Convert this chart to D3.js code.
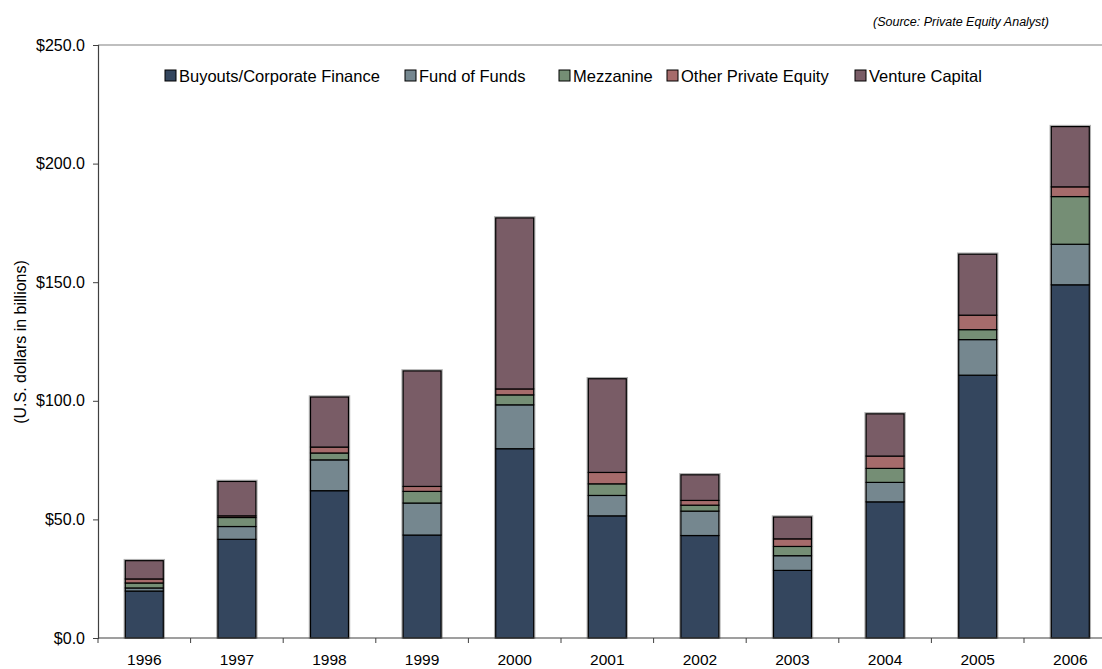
<!DOCTYPE html>
<html>
<head>
<meta charset="utf-8">
<script src="https://cdn.jsdelivr.net/npm/d3@7"></script>
<style>
  html, body { margin: 0; padding: 0; background: #fff; }
  svg { display: block; font-family: "Liberation Sans", Arial, sans-serif; }
</style>
</head>
<body>
<svg id="chart" width="1102" height="669"></svg>
<script>
const years = ["1996","1997","1998","1999","2000","2001","2002","2003","2004","2005","2006"];
const seriesNames = ["Buyouts/Corporate Finance","Fund of Funds","Mezzanine","Other Private Equity","Venture Capital"];
const buyouts     = [19.8, 41.6, 62.1, 43.4, 79.8, 51.5, 43.2, 28.5, 57.4, 110.8, 148.9];
const fundOfFunds = [1.3,  5.4,  13.0, 13.5, 18.5, 8.6,  10.3, 6.2,  8.2,  15.0,  17.1];
const mezzanine   = [2.1,  3.8,  2.9,  4.9,  4.2,  4.9,  2.5,  3.9,  5.9,  4.2,   20.1];
const otherPE     = [1.7,  0.7,  2.5,  2.1,  2.5,  4.8,  2.0,  3.2,  5.2,  6.1,   4.1];
const ventureCap  = [7.7,  14.5, 21.1, 48.7, 72.1, 39.5, 10.8, 9.2,  17.8, 25.7,  25.4];
const colors = ["#34465e","#75878f","#758e75","#a66b6b","#795c66"];
const yTicks = [0, 50, 100, 150, 200, 250];
const sourceText = "(Source: Private Equity Analyst)";
const yLabel = "(U.S. dollars in billions)";

(function () {
const seriesData = [buyouts, fundOfFunds, mezzanine, otherPE, ventureCap];
const rows = years.map((yr, i) => {
  const r = { year: yr };
  seriesNames.forEach((s, k) => r[s] = seriesData[k][i]);
  return r;
});
const stack = d3.stack().keys(seriesNames)(rows);

const svg = d3.select("#chart");
const pl = 98, pt = 45, pb = 638, pr = 98 + 11 * 92.6;

const x = d3.scaleBand().domain(years).range([pl, pr]).padding(0);
const y = d3.scaleLinear().domain([0, 250]).range([pb, pt]);
const barW = x.bandwidth() * 0.41;

// plot area top border
svg.append("line").attr("x1", pl).attr("x2", 1102).attr("y1", pt).attr("y2", pt)
  .attr("stroke", "#808080").attr("stroke-width", 1.2);

// bar halos
const last = stack[stack.length - 1];
svg.append("g").selectAll("rect").data(rows).join("rect")
  .attr("x", d => x(d.year) + (x.bandwidth() - barW) / 2 - 1)
  .attr("y", (d, i) => y(last[i][1]) - 1)
  .attr("width", barW + 2)
  .attr("height", (d, i) => y(0) - y(last[i][1]) + 1)
  .attr("fill", "none").attr("stroke", "#b0b0b0").attr("stroke-width", 1.5);

// bars
svg.append("g").selectAll("g").data(stack).join("g")
  .attr("fill", (d, i) => colors[i])
  .selectAll("rect").data(d => d).join("rect")
  .attr("x", d => x(d.data.year) + (x.bandwidth() - barW) / 2)
  .attr("y", d => y(d[1]))
  .attr("width", barW)
  .attr("height", d => y(d[0]) - y(d[1]))
  .attr("stroke", "#000").attr("stroke-width", 1.2);

// y axis
const yAxis = d3.axisLeft(y).tickValues(yTicks).tickFormat(d3.format("$.1f")).tickSize(5).tickPadding(8);
const gy = svg.append("g").attr("transform", `translate(${pl},0)`).call(yAxis);
gy.select(".domain").attr("stroke", "#404040").attr("stroke-width", 1.2);
gy.selectAll(".tick line").attr("stroke", "#404040");
gy.selectAll("text").attr("font-size", 16).attr("fill", "#000")
  .attr("font-family", "Liberation Sans, Arial, sans-serif");

// x axis
const gx = svg.append("g").attr("transform", `translate(0,${pb})`);
gx.append("line").attr("x1", pl).attr("x2", 1102).attr("stroke", "#404040").attr("stroke-width", 1.2);
const boundaries = years.map(d => x(d)).concat([pr]);
gx.selectAll("line.tk").data(boundaries).join("line").attr("class", "tk")
  .attr("x1", d => d).attr("x2", d => d).attr("y1", 0).attr("y2", 5)
  .attr("stroke", "#404040");
gx.selectAll("text").data(years).join("text")
  .attr("x", d => x(d) + x.bandwidth() / 2).attr("y", 27)
  .attr("text-anchor", "middle").attr("font-size", 15.5).text(d => d);

// y label
svg.append("text").attr("transform", "translate(26,342) rotate(-90)")
  .attr("text-anchor", "middle").attr("font-size", 16).text(yLabel);

// source
svg.append("text").attr("x", 1049).attr("y", 26).attr("text-anchor", "end")
  .attr("font-size", 12.5).attr("font-style", "italic").text(sourceText);

// legend
const legendX = [165, 405, 559, 667, 855];
const lg = svg.append("g").selectAll("g").data(seriesNames).join("g")
  .attr("transform", (d, i) => `translate(${legendX[i]},70)`);
lg.append("rect").attr("width", 11).attr("height", 11)
  .attr("fill", (d, i) => colors[i]).attr("stroke", "#000").attr("stroke-width", 1);
lg.append("text").attr("x", 14).attr("y", 12).attr("font-size", 16.5).text(d => d);
})();
</script>
</body>
</html>
